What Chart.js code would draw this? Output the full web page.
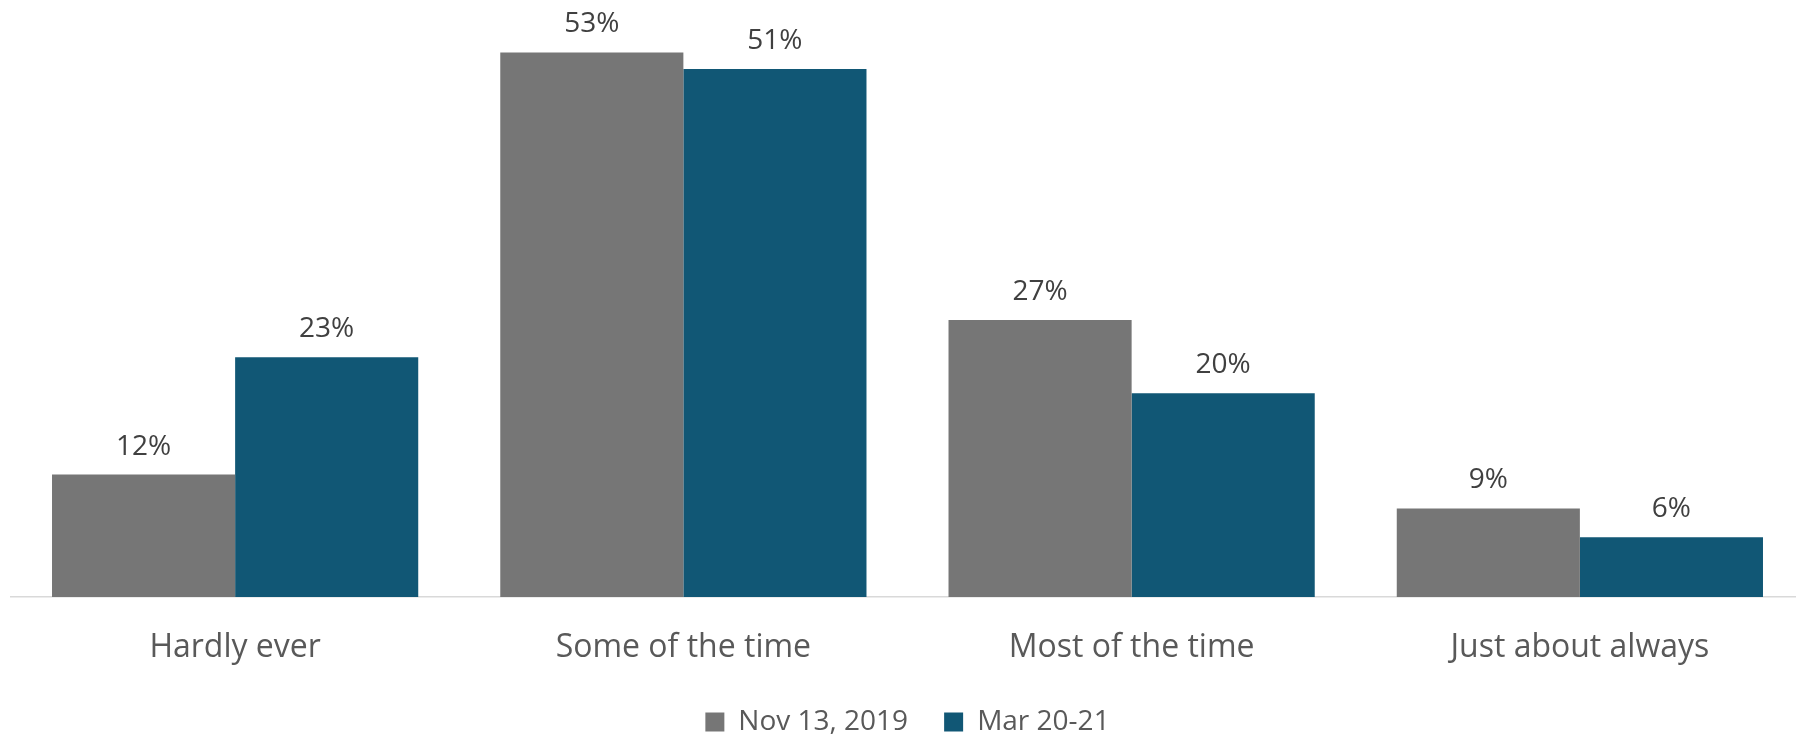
<!DOCTYPE html>
<html>
<head>
<meta charset="utf-8">
<script src="https://cdn.jsdelivr.net/npm/chart.js@4.4.1/dist/chart.umd.min.js"></script>
<style>
  html, body { margin: 0; padding: 0; background: #fff; overflow: hidden; }
  #wrap { width: 1808px; height: 750px; position: relative; }
</style>
</head>
<body>
<div id="wrap"><canvas id="chart"></canvas></div>
<script>
const categories = ["Hardly ever", "Some of the time", "Most of the time", "Just about always"];
const nov2019 = [11.9, 52.9, 26.9, 8.6];
const mar2021 = [23.3, 51.3, 19.8, 5.8];
const seriesNames = ["Nov 13, 2019", "Mar 20-21"];

const grey = "#767676";
const blue = "#115775";

// value labels above each bar (rounded like the source)
const barLabels = {
  id: "barLabels",
  afterDatasetsDraw(chart) {
    const ctx = chart.ctx;
    ctx.save();
    ctx.font = "28px 'Open Sans'";
    ctx.fillStyle = "#404040";
    ctx.textAlign = "center";
    ctx.textBaseline = "alphabetic";
    chart.data.datasets.forEach((ds, i) => {
      chart.getDatasetMeta(i).data.forEach((bar, j) => {
        ctx.fillText(Math.round(ds.data[j]) + "%", bar.x, bar.y - 20);
      });
    });
    ctx.restore();
  }
};

const ctx = document.getElementById("chart");

new Chart(ctx, {
  type: "bar",
  data: {
    labels: categories,
    datasets: [
      { label: seriesNames[0], data: nov2019, backgroundColor: grey },
      { label: seriesNames[1], data: mar2021, backgroundColor: blue }
    ]
  },
  options: {
    responsive: true,
    maintainAspectRatio: false,
    animation: false,
    layout: { padding: { left: 11, right: 4, top: 0, bottom: 4 } },
    datasets: {
      bar: { categoryPercentage: 0.817, barPercentage: 1.0 }
    },
    scales: {
      x: {
        grid: { display: false },
        border: { display: true, color: "#d9d9d9", width: 1.5 },
        ticks: {
          color: "#595959",
          font: { family: "'Open Sans'", size: 32 },
          padding: 24
        },
        afterFit(scale) { scale.height = 75; }
      },
      y: {
        display: false,
        min: 0,
        max: 58
      }
    },
    plugins: {
      legend: {
        position: "bottom",
        labels: {
          color: "#595959",
          font: { family: "'Open Sans'", size: 28 },
          boxWidth: 19,
          boxHeight: 19,
          padding: 36
        }
      },
      tooltip: { enabled: false }
    }
  },
  plugins: [barLabels]
});
</script>
</body>
</html>
